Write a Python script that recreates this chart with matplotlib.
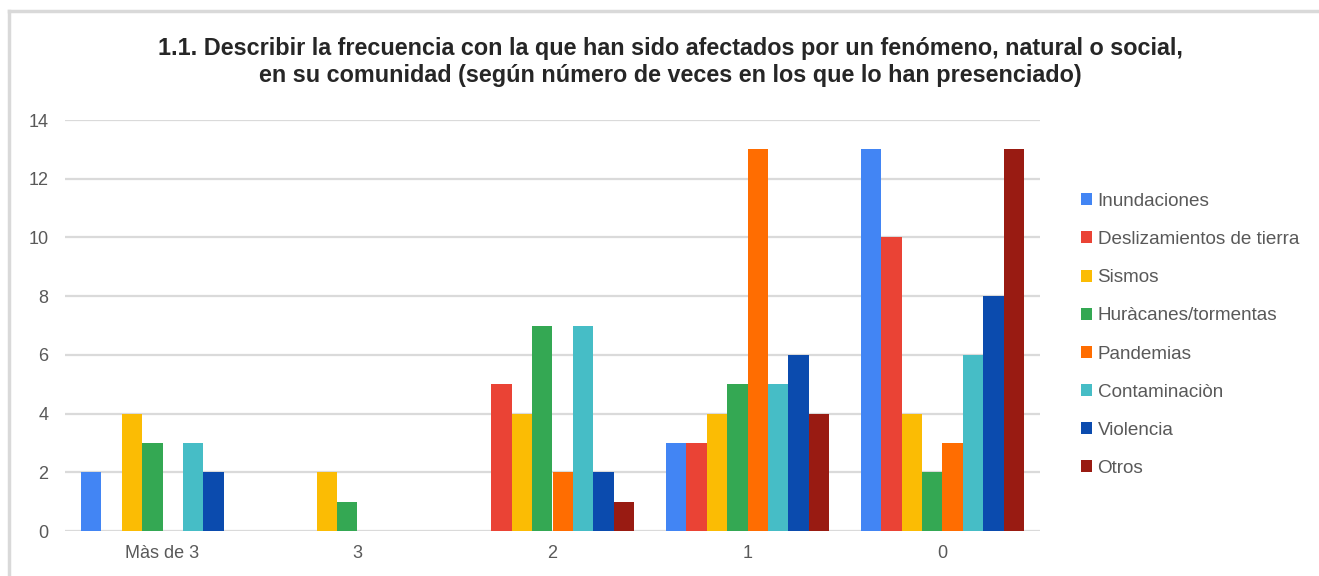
import matplotlib
matplotlib.use("Agg")
import matplotlib.pyplot as plt
from matplotlib.patches import Patch
from matplotlib.lines import Line2D
import numpy as np

categories = ["Màs de 3", "3", "2", "1", "0"]
series_names = ["Inundaciones", "Deslizamientos de tierra", "Sismos",
                "Huràcanes/tormentas", "Pandemias", "Contaminaciòn",
                "Violencia", "Otros"]
inundaciones = [2, 0, 0, 3, 13]
deslizamientos = [0, 0, 5, 3, 10]
sismos = [4, 2, 4, 4, 4]
huracanes = [3, 1, 7, 5, 2]
pandemias = [0, 0, 2, 13, 3]
contaminacion = [3, 0, 7, 5, 6]
violencia = [2, 0, 2, 6, 8]
otros = [0, 0, 1, 4, 13]
series_values = [inundaciones, deslizamientos, sismos, huracanes,
                 pandemias, contaminacion, violencia, otros]
colors = ["#4285F4", "#EA4335", "#FBBC04", "#34A853",
          "#FF6D01", "#46BDC6", "#0B4BAE", "#991B12"]
yticks = [0, 2, 4, 6, 8, 10, 12, 14]

title = ("1.1. Describir la frecuencia con la que han sido afectados por un fenómeno, natural o social,\n"
         "en su comunidad (según número de veces en los que lo han presenciado)")

plt.rcParams['font.family'] = ['Liberation Sans', 'DejaVu Sans']

W, H = 1319, 576
fig = plt.figure(figsize=(W / 100, H / 100), dpi=100)
ax = fig.add_axes([65 / W, 1 - 531 / H, (1040 - 65) / W, (531 - 120) / H])

n = len(series_values)
group_w = 0.835
bw = group_w / n
x = np.arange(len(categories))
for i, (vals, c, name) in enumerate(zip(series_values, colors, series_names)):
    offs = -group_w / 2 + bw * (i + 0.5)
    ax.bar(x + offs, vals, width=bw, color=c, label=name, zorder=3, linewidth=0)

ax.set_xlim(-0.5, len(categories) - 0.5)
ax.set_ylim(0, 14)
ax.set_yticks(yticks)
ax.set_xticks(x)
ax.set_xticklabels(categories)
ax.grid(axis='y', color='#dadada', linewidth=1.6, zorder=0)
ax.set_axisbelow(True)
for s in ax.spines.values():
    s.set_visible(False)
ax.tick_params(axis='both', length=0, labelsize=13, colors='#595959')
ax.tick_params(axis='y', pad=12)
ax.tick_params(axis='x', pad=10)

fig.text(670 / W, 1 - 62 / H, title, ha='center', va='center', fontsize=16.8,
         fontweight='bold', color='#262626', linespacing=1.25)

handles = [Patch(facecolor=c, edgecolor='none') for c in colors]
leg = fig.legend(handles, series_names, loc='center left',
                 bbox_to_anchor=(1073 / W, 1 - 335 / H), frameon=False,
                 fontsize=13.6, handlelength=0.6, handleheight=0.6,
                 handletextpad=0.3, labelspacing=1.12, borderaxespad=0)
for t in leg.get_texts():
    t.set_color('#595959')

# outer frame (top and left)
fig.add_artist(Line2D([8.5 / W, 1], [1 - 11 / H, 1 - 11 / H], color='#d9d9d9', linewidth=2.5))
fig.add_artist(Line2D([8.5 / W, 8.5 / W], [0, 1 - 11 / H], color='#d9d9d9', linewidth=2.5))

fig.savefig("out.png", dpi=100, facecolor='white')
